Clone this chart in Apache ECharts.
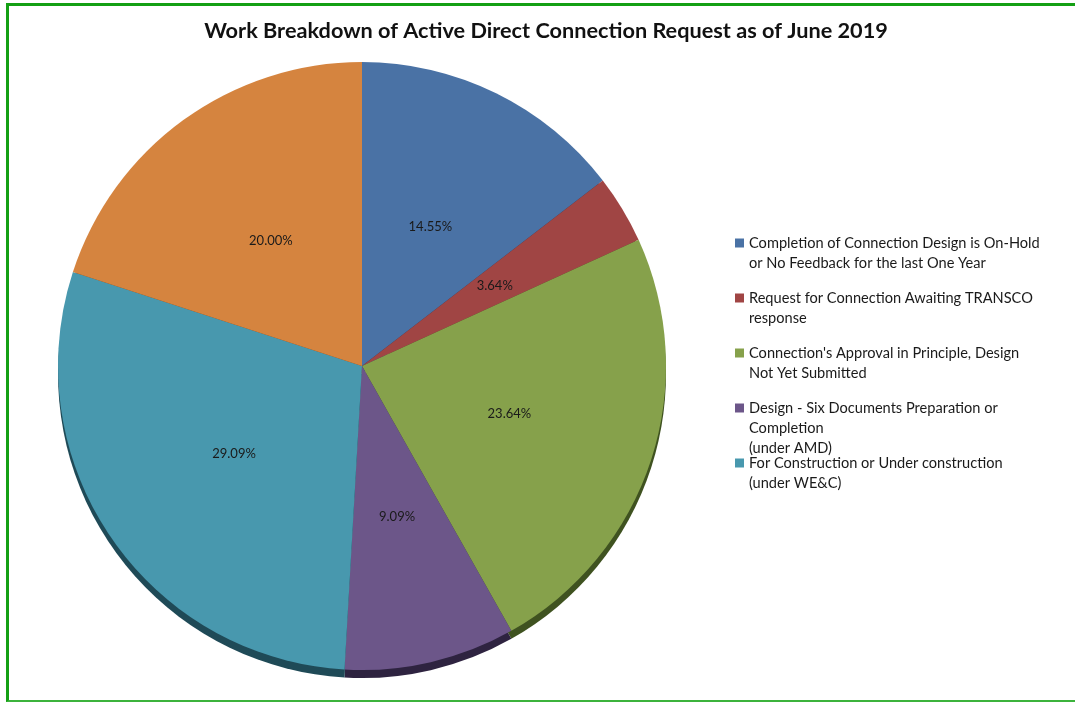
<!DOCTYPE html>
<html>
<head>
<meta charset="utf-8">
<title>Work Breakdown of Active Direct Connection Request as of June 2019</title>
<script src="https://cdn.jsdelivr.net/npm/echarts@6/dist/echarts.min.js"></script>
<style>
  html, body { margin: 0; padding: 0; background: #ffffff; }
  #wrap { position: relative; width: 1075px; height: 706px; overflow: hidden; }
  #frame {
    position: absolute; left: 6px; top: 3px; width: 1200px; height: 699px;
    border-top: 3px solid #14a014; border-left: 3px solid #14a014; border-bottom: 2px solid #3cb33c;
    box-sizing: border-box; pointer-events: none;
  }
  #chart { position: absolute; left: 0; top: 0; width: 1075px; height: 706px; }
</style>
</head>
<body>
<div id="wrap">
  <div id="chart"></div>
  <div id="frame"></div>
</div>
<script>
// Work categories, clockwise from 12 o'clock
const categories = [
  'Completion of Connection Design is On-Hold\nor No Feedback for the last One Year',
  'Request for Connection Awaiting TRANSCO\nresponse',
  "Connection's Approval in Principle, Design\nNot Yet Submitted",
  'Design - Six Documents Preparation or\nCompletion\n(under AMD)',
  'For Construction or Under construction\n(under WE&C)',
  'Other'
];
// Share of active requests (%)
const shares = [14.55, 3.64, 23.64, 9.09, 29.09, 20.00];
// Categories listed in the legend
const legendItems = categories.slice(0, 5);

const faceColors = ['#4a72a5', '#a04544', '#86a14b', '#6c5689', '#4898ae', '#d5843f'];
const sideColors = ['#23395a', '#5a2221', '#3f5220', '#2e2340', '#1f4a57', '#7a4620'];

const chart = echarts.init(document.getElementById('chart'), null, { renderer: 'canvas' });

const font = 'Lato, "Open Sans", sans-serif';
const center = [362, 366];
const radius = 304;

// Legend text is centred on its icon, so blank lines are added around each
// label to keep the icon level with the label's first line.
const lead = [1, 2, 1, 2, 1];
const tail = [0, 1, 0, 0, 0];
function legendLabel(name) {
  const i = legendItems.indexOf(name);
  return '\n'.repeat(lead[i]) + name + '\n'.repeat(tail[i]);
}

const pieData = categories.map((name, i) => ({ name: name, value: shares[i] }));

chart.setOption({
  animation: false,
  backgroundColor: '#ffffff',
  title: {
    text: 'Work Breakdown of Active Direct Connection Request as of June 2019',
    left: 541,
    top: 15,
    textAlign: 'center',
    textStyle: { fontFamily: font, fontSize: 21.7, fontWeight: 'bold', color: '#111111' }
  },
  legend: {
    orient: 'vertical',
    left: 735,
    top: 213,
    padding: 0,
    itemWidth: 9,
    itemHeight: 9,
    itemGap: -25,
    icon: 'rect',
    selectedMode: false,
    data: legendItems,
    formatter: legendLabel,
    textStyle: { fontFamily: font, fontSize: 14.6, lineHeight: 20, color: '#1a1a1a' }
  },
  series: [
    {
      name: 'face',
      type: 'pie',
      z: 3,
      center: center,
      radius: radius,
      startAngle: 90,
      clockwise: true,
      data: pieData,
      itemStyle: {
        borderWidth: 0,
        color: p => faceColors[p.dataIndex]
      },
      label: {
        show: true,
        position: 'inner',
        fontFamily: font,
        fontSize: 13,
        color: '#1a1a1a',
        formatter: p => p.value.toFixed(2) + '%'
      },
      labelLine: { show: false },
      emphasis: { disabled: true }
    },
    {
      name: 'side',
      type: 'pie',
      z: 2,
      silent: true,
      center: [center[0], center[1] + 8],
      radius: radius,
      startAngle: 90,
      clockwise: true,
      data: pieData,
      itemStyle: {
        borderWidth: 0,
        color: p => sideColors[p.dataIndex]
      },
      label: { show: false },
      labelLine: { show: false },
      emphasis: { disabled: true }
    }
  ]
});
</script>
</body>
</html>
